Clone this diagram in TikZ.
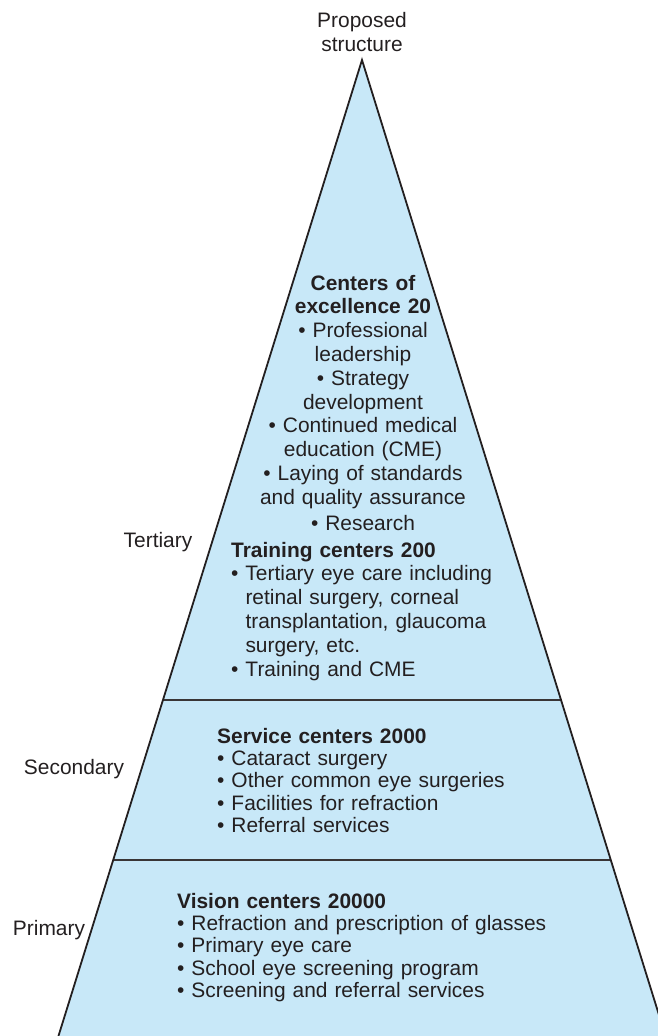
\documentclass[tikz,border=0pt]{standalone}
\usepackage{fontspec}
\setmainfont{Liberation Sans}
\usepackage{tikz}
\usetikzlibrary{calc}
\definecolor{pyrfill}{HTML}{C8E8F8}
\definecolor{inkgray}{HTML}{231F20}
\newcommand{\bulletgap}{\hphantom{\textbullet\ }}

\begin{document}
\begin{tikzpicture}[x=1bp,y=-1bp,
  txt/.style={inner sep=0pt,text=inkgray,font=\fontsize{21}{23.9}\selectfont},
  lowtxt/.style={txt,font=\fontsize{21}{22.5}\selectfont},
  leftblock/.style={anchor=base west,text width=420bp,align=left},
  midblock/.style={anchor=base,text width=320bp,align=center},
  tierlabel/.style={txt,anchor=base}]
\useasboundingbox (0,0) rectangle (658,1036);
% pyramid outline
\coordinate (apex) at (362,60);
\coordinate (bl) at (51,1060);
\coordinate (br) at (673,1060);
\begin{scope}
\clip (0,0) rectangle (658,1036);
\fill[pyrfill] (apex) -- (br) -- (bl) -- cycle;
\draw[draw=inkgray!90,line width=1.3bp] ($(apex)!0.64!(bl)$) -- ($(apex)!0.64!(br)$);
\draw[draw=inkgray!90,line width=1.3bp] ($(apex)!0.8!(bl)$) -- ($(apex)!0.8!(br)$);
\draw[draw=inkgray,line width=1.8bp,line join=miter] (bl) -- (apex) -- (br);
\end{scope}
% heading
\node[txt,midblock,font=\fontsize{21}{25}\selectfont] (title) at (362,27) {Proposed\\structure};
% tier names
\node[tierlabel] (tertiary) at (158,547) {Tertiary};
\node[tierlabel] (secondary) at (74,774) {Secondary};
\node[tierlabel] (primary) at (49,935) {Primary};
% tertiary level
\node[txt,midblock] (excellence) at (363,290) {\textbf{Centers of}\\\textbf{excellence 20}\\
  \textbullet\ Professional\\leadership\\\textbullet\ Strategy\\development\\
  \textbullet\ Continued medical\\education (CME)\\\textbullet\ Laying of standards\\
  and quality assurance\\[2bp]\textbullet\ Research};
\node[txt,leftblock] (training) at (231,557) {\textbf{Training centers 200}\\
  \textbullet\ Tertiary eye care including\\\bulletgap retinal surgery, corneal\\
  \bulletgap transplantation, glaucoma\\\bulletgap surgery, etc.\\\textbullet\ Training and CME};
% secondary level
\node[lowtxt,leftblock] (service) at (217,743) {\textbf{Service centers 2000}\\
  \textbullet\ Cataract surgery\\\textbullet\ Other common eye surgeries\\
  \textbullet\ Facilities for refraction\\\textbullet\ Referral services};
% primary level
\node[lowtxt,leftblock] (vision) at (177,908) {\textbf{Vision centers 20000}\\
  \textbullet\ Refraction and prescription of glasses\\\textbullet\ Primary eye care\\
  \textbullet\ School eye screening program\\\textbullet\ Screening and referral services};
\end{tikzpicture}
\end{document}
